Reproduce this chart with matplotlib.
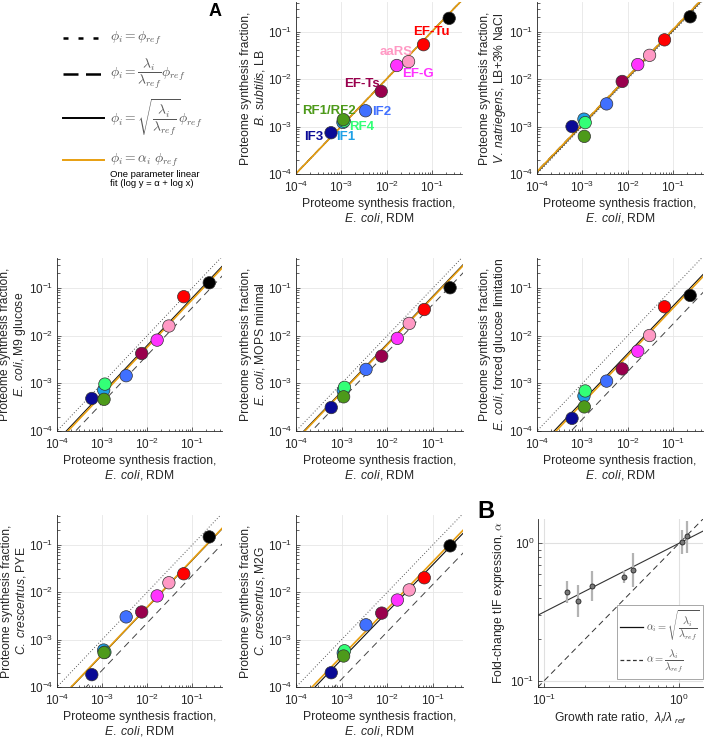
import numpy as np
import matplotlib
matplotlib.use("Agg")
import matplotlib.pyplot as plt
from matplotlib.lines import Line2D
from matplotlib.ticker import LogLocator, NullFormatter

plt.rcParams['font.family'] = ['Liberation Sans', 'DejaVu Sans']
plt.rcParams['mathtext.fontset'] = 'custom'
plt.rcParams['mathtext.rm'] = 'Liberation Sans'
plt.rcParams['mathtext.it'] = 'Liberation Sans:italic'
plt.rcParams['mathtext.bf'] = 'Liberation Sans:bold'

# translation factors (order is also draw order)
factors = ['IF3', 'IF1', 'RF4', 'RF1/RF2', 'IF2', 'EF-Ts', 'EF-G', 'aaRS', 'EF-Tu', 'ribosome']
colors = ['#0a0a96', '#1ea0e6', '#33ff77', '#4d9a1a', '#4070ff',
          '#99004d', '#ff33ff', '#ff99c4', '#ff0000', '#000000']

# reference: E. coli in RDM
ecoli_rdm = [5.9e-4, 1.08e-3, 1.15e-3, 1.1e-3, 3.4e-3, 7.5e-3, 1.65e-2, 3.0e-2, 6.4e-2, 0.235]

# other organisms / conditions
bsub_lb = [7.4e-4, 1.22e-3, 1.3e-3, 1.4e-3, 2.15e-3, 5.5e-3, 1.93e-2, 2.33e-2, 5.3e-2, 0.19]
vnat_lb = [1.0e-3, 1.43e-3, 1.21e-3, 6.2e-4, 3.0e-3, 8.9e-3, 2.02e-2, 3.16e-2, 6.7e-2, 0.205]
ecoli_m9 = [4.8e-4, 7.2e-4, 9.6e-4, 4.6e-4, 1.44e-3, 4.2e-3, 8.0e-3, 1.58e-2, 6.5e-2, 0.127]
ecoli_mops = [3.1e-4, 7.0e-4, 8.2e-4, 5.2e-4, 1.95e-3, 3.7e-3, 8.7e-3, 1.79e-2, 3.5e-2, 0.100]
ecoli_glclim = [1.84e-4, 5.4e-4, 6.9e-4, 3.2e-4, 1.11e-3, 2.0e-3, 4.7e-3, 1.0e-2, 4.0e-2, 0.069]
ccres_pye = [1.82e-4, 6.0e-4, 5.4e-4, 5.3e-4, 3.0e-3, 3.8e-3, 8.3e-3, 1.57e-2, 2.43e-2, 0.145]
ccres_m2g = [2.0e-4, 5.2e-4, 5.8e-4, 4.5e-4, 2.04e-3, 3.6e-3, 6.8e-3, 1.11e-2, 2.0e-2, 0.094]

panel_data = [bsub_lb, vnat_lb, ecoli_m9, ecoli_mops, ecoli_glclim, ccres_pye, ccres_m2g]
panel_ylabels = [r'$\mathit{B.\ subtilis}$, LB',
                 r'$\mathit{V.\ natriegens}$, LB+3% NaCl',
                 r'$\mathit{E.\ coli}$, M9 glucose',
                 r'$\mathit{E.\ coli}$, MOPS minimal',
                 r'$\mathit{E.\ coli}$, forced glucose limitation',
                 r'$\mathit{C.\ crescentus}$, PYE',
                 r'$\mathit{C.\ crescentus}$, M2G']

# growth rate ratio lambda_i/lambda_ref and fitted alpha (+ error range)
growth_ratio = [1.04, 1.15, 0.388, 0.454, 0.177, 0.226, 0.147]
alpha_fit = [1.02, 1.12, 0.572, 0.643, 0.381, 0.487, 0.445]
alpha_lo = [0.832, 0.855, 0.513, 0.484, 0.29, 0.377, 0.37]
alpha_hi = [1.25, 1.46, 0.632, 0.846, 0.498, 0.629, 0.532]

# factor labels in first panel (data coords)
label_pos = {'EF-Tu': (0.094, 0.097), 'aaRS': (0.0162, 0.0374), 'EF-G': (0.048, 0.0127),
             'EF-Ts': (0.0028, 0.0079), 'RF1/RF2': (5.3e-4, 0.00215), 'IF2': (0.0075, 0.002),
             'RF4': (0.00286, 0.00098), 'IF3': (2.5e-4, 6.0e-4), 'IF1': (0.00127, 6.0e-4)}

W, H = 715, 739
fig = plt.figure(figsize=(W / 100, H / 100), dpi=100)


def box(x0, y0, x1, y1):
    return [x0 / W, 1 - y1 / H, (x1 - x0) / W, (y1 - y0) / H]


boxes = [(296, 2, 462, 174), (537, 2, 703, 174),
         (57, 258, 222, 431), (296, 258, 463, 431), (537, 258, 703, 431),
         (57, 515, 222, 687), (296, 515, 463, 687)]

axcol = '#262626'
orange = '#e89f10'


def style(ax):
    for s in ['top', 'right']:
        ax.spines[s].set_visible(False)
    for s in ['left', 'bottom']:
        ax.spines[s].set_color(axcol)
        ax.spines[s].set_linewidth(0.6)
    ax.tick_params(which='both', direction='in', colors=axcol, width=0.5, labelsize=8.5)
    ax.tick_params(which='major', length=3)
    ax.tick_params(axis='x', which='major', pad=4.5)
    ax.tick_params(axis='y', which='major', pad=2.5)
    ax.tick_params(which='minor', length=1.8)
    ax.grid(True, which='major', color='#e6e6e6', lw=0.6)
    ax.set_axisbelow(True)


xl = np.logspace(-5, 1, 50)
for i, (b, ydata) in enumerate(zip(boxes, panel_data)):
    ax = fig.add_axes(box(*b))
    ax.set_xscale('log')
    ax.set_yscale('log')
    r = growth_ratio[i]
    a = alpha_fit[i]
    ax.plot(xl, xl, ls=(0, (1, 2)), color='#555555', lw=0.7)
    ax.plot(xl, r * xl, ls=(0, (7, 5)), color='#444444', lw=0.7)
    ax.plot(xl, np.sqrt(r) * xl, color='#111111', lw=0.8)
    ax.plot(xl, a * xl, color=orange, lw=1.2)
    ax.scatter(ecoli_rdm, ydata, s=80, c=colors, edgecolors='#333333', linewidths=0.5, zorder=3)
    ax.set_xlim(1e-4, 0.45)
    ax.set_ylim(1e-4, 0.42)
    ax.xaxis.set_major_locator(LogLocator(base=10, numticks=10))
    ax.yaxis.set_major_locator(LogLocator(base=10, numticks=10))
    ax.xaxis.set_minor_formatter(NullFormatter())
    ax.yaxis.set_minor_formatter(NullFormatter())
    style(ax)
    ax.set_xlabel('Proteome synthesis fraction,\n' + r'$\mathit{E.\ coli}$, RDM', fontsize=8.7,
                  color=axcol, labelpad=1.5, linespacing=1.1)
    ax.set_ylabel('Proteome synthesis fraction,\n' + panel_ylabels[i], fontsize=8.7,
                  color=axcol, labelpad=0.5, linespacing=1.1)
    if i == 0:
        for name, (tx, ty) in label_pos.items():
            ax.text(tx, ty, name, color=colors[factors.index(name)], fontsize=9.5,
                    fontweight='bold', ha='center', va='center', zorder=4)

# panel B
axb = fig.add_axes(box(538, 519, 703, 687))
axb.set_xscale('log')
axb.set_yscale('log')
xb = np.logspace(-1.1, 0.3, 50)
axb.plot(xb, np.sqrt(xb), color='#333333', lw=0.8)
axb.plot(xb, xb, ls=(0, (6, 4)), color='#333333', lw=0.7)
ratio = np.array(growth_ratio)
af = np.array(alpha_fit)
axb.vlines(ratio, alpha_lo, alpha_hi, color='#b3b3b3', lw=1.6, zorder=2)
axb.plot(ratio, af, 'o', ms=3.6, mfc='#7a7a7a', mec='#222222', mew=0.6, zorder=3)
axb.set_xlim(0.09, 1.5)
axb.set_ylim(0.09, 1.5)
axb.xaxis.set_minor_formatter(NullFormatter())
axb.yaxis.set_minor_formatter(NullFormatter())
style(axb)
axb.grid(True, which='major', color='#e0e0e0', lw=0.8)
axb.set_xlabel(r'Growth rate ratio,  $\lambda_i/\lambda_{\ ref}$', fontsize=8.7, color=axcol, labelpad=2)
axb.set_ylabel(r'Fold-change tIF expression, $\alpha$', fontsize=8.7, color=axcol,
               math_fontfamily='cm', labelpad=2)
hs = [Line2D([], [], color='#111111', lw=0.9), Line2D([], [], color='#333333', lw=0.9, ls=(0, (3, 2)))]
leg = axb.legend(hs, [r'$\alpha_i = \sqrt{\dfrac{\lambda_i}{\lambda_{ref}}}$',
                      r'$\alpha = \dfrac{\lambda_i}{\lambda_{ref}}$'],
                 loc='lower right', bbox_to_anchor=(1.0, 0.05), fontsize=7.5, fancybox=False,
                 framealpha=1, edgecolor='#999999', handlelength=2.2, handletextpad=0.3,
                 borderpad=0.3, labelspacing=0.5, borderaxespad=0)
leg.get_frame().set_linewidth(0.6)
for t in leg.get_texts():
    t.set_math_fontfamily('cm')
    t.set_color('#555555')

# legend of line styles (top left)
line_y = [38, 74, 118, 160]
line_styles = [dict(ls=(0, (2, 4)), color='black', lw=1.8),
               dict(ls=(0, (6, 3)), color='black', lw=1.8),
               dict(ls='-', color='black', lw=1.4),
               dict(ls='-', color=orange, lw=1.4)]
line_text = [r'$\phi_i = \phi_{ref}$',
             r'$\phi_i = \dfrac{\lambda_i}{\lambda_{ref}}\phi_{ref}$',
             r'$\phi_i = \sqrt{\dfrac{\lambda_i}{\lambda_{ref}}}\phi_{ref}$',
             r'$\phi_i = \alpha_i\ \phi_{ref}$']
for yy, st, tx in zip(line_y, line_styles, line_text):
    fig.add_artist(Line2D([63 / W, 104 / W], [1 - yy / H, 1 - yy / H], transform=fig.transFigure, **st))
    fig.text(110 / W, 1 - yy / H, tx, fontsize=9.8, color='#555555', va='center', ha='left',
             math_fontfamily='cm')
fig.text(110 / W, 1 - 170 / H, 'One parameter linear\nfit (log y = \u03b1 + log x)', fontsize=6.8,
         va='top', ha='left', color='black', linespacing=1.0)

fig.text(215 / W, 1 - 11 / H, 'A', fontsize=13, fontweight='bold', ha='center', va='center')
fig.text(486 / W, 1 - 512 / H, 'B', fontsize=17, fontweight='bold', ha='center', va='center')

fig.savefig('out.png', dpi=100)
